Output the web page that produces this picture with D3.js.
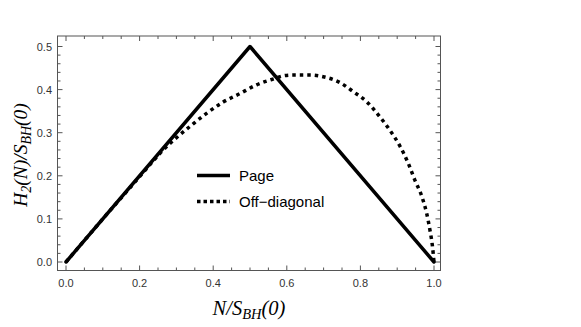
<!DOCTYPE html>
<html>
<head>
<meta charset="utf-8">
<script src="https://cdn.jsdelivr.net/npm/d3@7"></script>
<style>
  body { margin: 0; background: #fff; }
  svg { display: block; }
</style>
</head>
<body>
<script>
// data
const pageX = [0, 0.5, 1];
const pageY = [0, 0.5, 0];

const offX = [0, 0.05, 0.1, 0.15, 0.2, 0.25, 0.263, 0.301, 0.342, 0.382, 0.427, 0.473, 0.518, 0.568, 0.59,
  0.618, 0.663, 0.699, 0.745, 0.781, 0.817, 0.849, 0.88, 0.908, 0.93, 0.948, 0.967, 0.98, 0.989, 0.996, 1];
const offY = [0, 0.05, 0.1, 0.149, 0.198, 0.247, 0.259, 0.289, 0.318, 0.345, 0.371, 0.391, 0.411, 0.426, 0.432,
  0.434, 0.434, 0.43, 0.416, 0.395, 0.372, 0.341, 0.306, 0.268, 0.229, 0.19, 0.152, 0.113, 0.074, 0.035, 0];

const xTicks = [0, 0.2, 0.4, 0.6, 0.8, 1.0];
const yTicks = [0, 0.1, 0.2, 0.3, 0.4, 0.5];

const width = 581, height = 327;
const frameL = 57.5, frameR = 440.5, frameT = 36, frameB = 270.5;

const x = d3.scaleLinear().domain([0, 1]).range([66, 434]);
const y = d3.scaleLinear().domain([0, 0.5]).range([262, 46.5]);

const svg = d3.select("body").append("svg")
  .attr("width", width)
  .attr("height", height);

// minor ticks
const xMinor = d3.range(0, 1.0001, 0.05).filter(v => Math.abs(v * 5 - Math.round(v * 5)) > 1e-6);
const yMinor = d3.range(0, 0.52, 0.02).filter(v => Math.abs(v * 10 - Math.round(v * 10)) > 1e-6);

const frameColor = "#555";
const g = svg.append("g").attr("stroke", frameColor).attr("stroke-width", 1);

// ticks along the bottom and top
xTicks.forEach(v => {
  g.append("line").attr("x1", x(v)).attr("x2", x(v)).attr("y1", frameB).attr("y2", frameB - 5);
  g.append("line").attr("x1", x(v)).attr("x2", x(v)).attr("y1", frameT).attr("y2", frameT + 5);
});
xMinor.forEach(v => {
  g.append("line").attr("x1", x(v)).attr("x2", x(v)).attr("y1", frameB).attr("y2", frameB - 3);
  g.append("line").attr("x1", x(v)).attr("x2", x(v)).attr("y1", frameT).attr("y2", frameT + 3);
});
// ticks along left and right
yTicks.forEach(v => {
  g.append("line").attr("y1", y(v)).attr("y2", y(v)).attr("x1", frameL).attr("x2", frameL + 5);
  g.append("line").attr("y1", y(v)).attr("y2", y(v)).attr("x1", frameR).attr("x2", frameR - 5);
});
yMinor.forEach(v => {
  g.append("line").attr("y1", y(v)).attr("y2", y(v)).attr("x1", frameL).attr("x2", frameL + 3);
  g.append("line").attr("y1", y(v)).attr("y2", y(v)).attr("x1", frameR).attr("x2", frameR - 3);
});

// frame
svg.append("rect")
  .attr("x", frameL).attr("y", frameT)
  .attr("width", frameR - frameL).attr("height", frameB - frameT)
  .attr("fill", "none").attr("stroke", frameColor).attr("stroke-width", 1);

// tick labels
svg.append("g").selectAll("text").data(xTicks).join("text")
  .attr("x", d => x(d)).attr("y", 287)
  .attr("text-anchor", "middle")
  .attr("font-family", "Liberation Sans, Arial, sans-serif")
  .attr("font-size", 11).attr("fill", "#333")
  .text(d => d.toFixed(1));

svg.append("g").selectAll("text").data(yTicks).join("text")
  .attr("x", 52).attr("y", d => y(d) + 4)
  .attr("text-anchor", "end")
  .attr("font-family", "Liberation Sans, Arial, sans-serif")
  .attr("font-size", 11).attr("fill", "#333")
  .text(d => d.toFixed(1));

// curves
const line = d3.line().x(d => x(d[0])).y(d => y(d[1]));

svg.append("path")
  .datum(d3.zip(offX, offY))
  .attr("d", line.curve(d3.curveMonotoneX))
  .attr("fill", "none").attr("stroke", "#000")
  .attr("stroke-width", 3.5)
  .attr("stroke-dasharray", "3.5,4");

svg.append("path")
  .datum(d3.zip(pageX, pageY))
  .attr("d", d3.line().x(d => x(d[0])).y(d => y(d[1])))
  .attr("fill", "none").attr("stroke", "#000")
  .attr("stroke-width", 3.5)
  .attr("stroke-linejoin", "round")
  .attr("stroke-linecap", "round");

// legend
const legend = svg.append("g").attr("font-family", "Liberation Sans, Arial, sans-serif").attr("font-size", 15);
legend.append("line").attr("x1", 197).attr("x2", 230).attr("y1", 175.5).attr("y2", 175.5)
  .attr("stroke", "#000").attr("stroke-width", 3.5);
legend.append("text").attr("x", 239).attr("y", 181).text("Page");
legend.append("line").attr("x1", 197).attr("x2", 230).attr("y1", 201.5).attr("y2", 201.5)
  .attr("stroke", "#000").attr("stroke-width", 3.5).attr("stroke-dasharray", "3.5,3");
legend.append("text").attr("x", 239).attr("y", 207).text("Off\u2212diagonal");

// axis labels
const serif = "Liberation Serif, Times New Roman, serif";
const xl = svg.append("text")
  .attr("x", 249).attr("y", 315)
  .attr("text-anchor", "middle")
  .attr("font-family", serif).attr("font-style", "italic").attr("font-size", 20.5);
xl.append("tspan").text("N/S");
xl.append("tspan").attr("font-size", 14.5).attr("dy", 4).text("BH");
xl.append("tspan").attr("dy", -4).text("(0)");

const yl = svg.append("text")
  .attr("transform", "translate(27,155) rotate(-90)")
  .attr("text-anchor", "middle")
  .attr("font-family", serif).attr("font-style", "italic").attr("font-size", 19.5);
yl.append("tspan").text("H");
yl.append("tspan").attr("font-size", 14).attr("dy", 4).text("2");
yl.append("tspan").attr("dy", -4).text("(N)/S");
yl.append("tspan").attr("font-size", 14).attr("dy", 4).text("BH");
yl.append("tspan").attr("dy", -4).text("(0)");
</script>
</body>
</html>
